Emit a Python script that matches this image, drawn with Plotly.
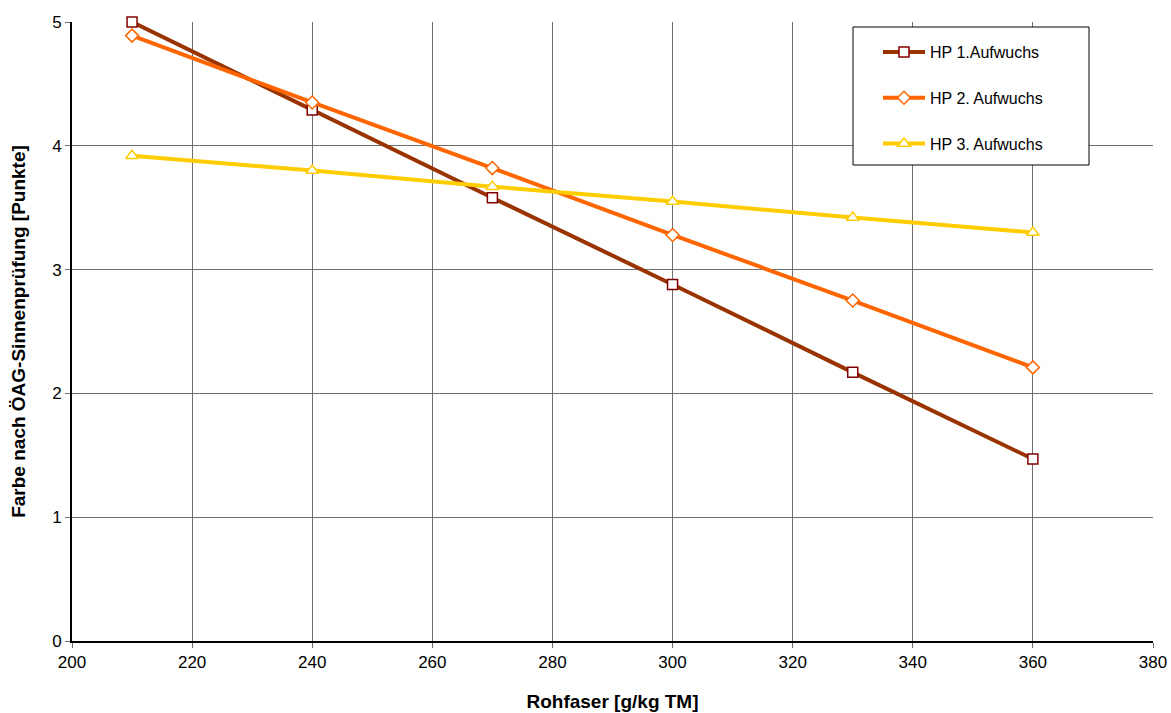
import plotly.graph_objects as go

x_vals = [210, 240, 270, 300, 330, 360]
hp1 = [5.00, 4.29, 3.58, 2.88, 2.17, 1.47]
hp2 = [4.89, 4.35, 3.82, 3.28, 2.75, 2.21]
hp3 = [3.92, 3.80, 3.67, 3.55, 3.42, 3.30]
names = ["HP 1.Aufwuchs", "HP 2. Aufwuchs", "HP 3. Aufwuchs"]

fig = go.Figure()
styles = [
    (hp1, "#993300", "#800000", "square", 10),
    (hp2, "#FF6600", "#FF6600", "diamond", 10),
    (hp3, "#FFCC00", "#FFCC00", "triangle-up", 11),
]
for i, (ys, lc, mc, sym, sz) in enumerate(styles):
    fig.add_trace(go.Scatter(
        x=x_vals, y=ys, name=names[i], mode="lines+markers",
        legendgroup=str(i),
        line=dict(color=lc, width=4),
        marker=dict(symbol=sym, size=sz, color="white",
                    line=dict(color=mc, width=1.5)),
        cliponaxis=False,
    ))

# legend frame
fig.add_shape(type="rect", xref="paper", yref="paper",
              x0=0.7225, x1=0.9408, y0=0.769, y1=0.9919,
              line=dict(color="black", width=1), fillcolor="white", layer="above")

fig.update_layout(
    width=1171, height=713,
    margin=dict(l=72, r=18, t=22, b=72, autoexpand=False),
    plot_bgcolor="white", paper_bgcolor="white",
    font=dict(family="Liberation Sans, Arial", size=14, color="black"),
    showlegend=True,
    legend=dict(x=0.7456, y=0.979, xanchor="left", yanchor="top",
                bgcolor="rgba(0,0,0,0)", borderwidth=0,
                font=dict(size=16), tracegroupgap=22, traceorder="grouped",
                itemwidth=42),
    xaxis=dict(range=[200, 380], tickvals=list(range(200, 381, 20)),
               showgrid=True, gridcolor="#6e6e6e", gridwidth=1,
               showline=True, linecolor="black", linewidth=1.5,
               ticks="outside", ticklen=5, tickcolor="#6e6e6e",
               zeroline=False, automargin=False,
               tickfont=dict(size=17),
               title=dict(text="<b>Rohfaser [g/kg TM]</b>", font=dict(size=19), standoff=24)),
    yaxis=dict(range=[0, 5], tickvals=[0, 1, 2, 3, 4, 5],
               showgrid=True, gridcolor="#6e6e6e", gridwidth=1,
               showline=True, linecolor="black", linewidth=2,
               ticks="outside", ticklen=5, tickcolor="#6e6e6e",
               zeroline=False, automargin=False,
               tickfont=dict(size=17),
               title=dict(text="<b>Farbe nach ÖAG-Sinnenprüfung [Punkte]</b>", font=dict(size=19), standoff=21)),
)

fig.write_html("out.html")
